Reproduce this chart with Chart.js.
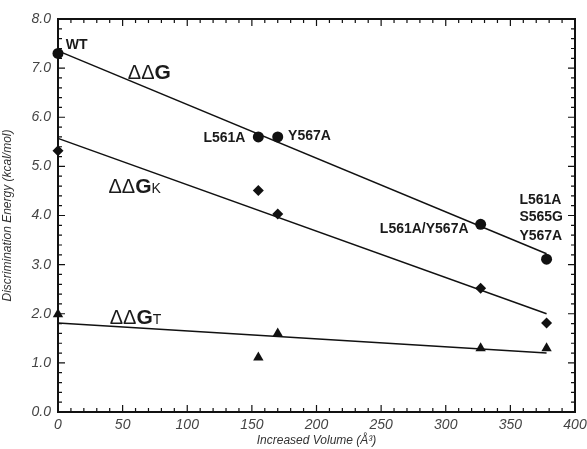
<!DOCTYPE html>
<html>
<head>
<meta charset="utf-8">
<script src="https://cdn.jsdelivr.net/npm/chart.js@4"></script>
<style>
  html, body { margin: 0; padding: 0; background: #fff; }
  #wrap { width: 587px; height: 449px; }
</style>
</head>
<body>
<div id="wrap"><canvas id="energyChart" width="587" height="449"></canvas></div>
<script>
// Increased side chain volume (A^3) for each mutant: WT, L561A, Y567A, L561A/Y567A, L561A/S565G/Y567A
const volumes = [0, 155, 170, 327, 378];
const ddG = [7.3, 5.6, 5.6, 3.82, 3.11];
const ddGK = [5.32, 4.51, 4.03, 2.52, 1.81];
const ddGT = [1.99, 1.11, 1.6, 1.3, 1.3];

// end points of the fitted lines
const fitX = [0, 378];
const fitG = [7.35, 3.22];
const fitK = [5.57, 2.0];
const fitT = [1.81, 1.2];

const xTicks = [0, 50, 100, 150, 200, 250, 300, 350, 400];
const yTicks = [0, 1, 2, 3, 4, 5, 6, 7, 8];

// text labels, anchored in data units
const notes = [
  { text: 'WT', x: 6, y: 7.47, align: 'left' },
  { text: 'L561A', x: 145, y: 5.57, align: 'right' },
  { text: 'Y567A', x: 178, y: 5.61, align: 'left' },
  { text: 'L561A/Y567A', x: 249, y: 3.72, align: 'left' },
  { text: 'L561A', x: 357, y: 4.32, align: 'left' },
  { text: 'S565G', x: 357, y: 3.96, align: 'left' },
  { text: 'Y567A', x: 357, y: 3.58, align: 'left' }
];
const seriesNames = [
  { sub: '', x: 54, y: 6.92 },
  { sub: 'K', x: 39, y: 4.6 },
  { sub: 'T', x: 40, y: 1.93 }
];

function pts(xs, ys) {
  return xs.map((x, i) => ({ x: x, y: ys[i] }));
}

function fitLine(ys) {
  return { type: 'line', data: pts(fitX, ys), borderColor: '#111', borderWidth: 1.5,
    pointRadius: 0, fill: false, showLine: true, clip: false, order: 2 };
}

function markers(ys, style, r) {
  return { type: 'scatter', data: pts(volumes, ys), pointStyle: style, pointRadius: r,
    pointHoverRadius: r, backgroundColor: '#111', borderColor: '#111', borderWidth: 0,
    clip: false, order: 1 };
}

// ticks on all four sides pointing inwards, plus the box and the text labels
const framePlugin = {
  id: 'frame',
  afterDatasetsDraw(chart) {
    const ctx = chart.ctx;
    const a = chart.chartArea;
    const xs = chart.scales.x;
    const ys = chart.scales.y;
    ctx.save();
    ctx.strokeStyle = '#111';
    ctx.lineWidth = 1.2;
    for (let v = 0; v <= 400; v += 10) {
      let px = xs.getPixelForValue(v);
      let len = v % 50 === 0 ? 7 : 4;
      ctx.beginPath();
      ctx.moveTo(px, a.bottom); ctx.lineTo(px, a.bottom - len);
      ctx.moveTo(px, a.top); ctx.lineTo(px, a.top + len);
      ctx.stroke();
    }
    for (let i = 0; i <= 40; i++) {
      let py = ys.getPixelForValue(i * 0.2);
      let len = i % 5 === 0 ? 7 : 4;
      ctx.beginPath();
      ctx.moveTo(a.left, py); ctx.lineTo(a.left + len, py);
      ctx.moveTo(a.right, py); ctx.lineTo(a.right - len, py);
      ctx.stroke();
    }
    ctx.lineWidth = 2;
    ctx.strokeRect(a.left, a.top, a.right - a.left, a.bottom - a.top);

    ctx.fillStyle = '#1a1a1a';
    ctx.textBaseline = 'middle';
    ctx.font = 'bold 14px "Liberation Sans", Arial, sans-serif';
    notes.forEach(n => {
      ctx.textAlign = n.align;
      ctx.fillText(n.text, xs.getPixelForValue(n.x), ys.getPixelForValue(n.y));
    });

    ctx.textAlign = 'left';
    ctx.textBaseline = 'alphabetic';
    seriesNames.forEach(s => {
      let px = xs.getPixelForValue(s.x);
      let py = ys.getPixelForValue(s.y) + 7;
      ctx.font = '20px "Liberation Sans", Arial, sans-serif';
      ctx.fillText('\u0394\u0394', px, py);
      let w = ctx.measureText('\u0394\u0394').width;
      ctx.font = 'bold 21px "Liberation Sans", Arial, sans-serif';
      ctx.fillText('G', px + w, py);
      w += ctx.measureText('G').width;
      if (s.sub) {
        ctx.font = '14px "Liberation Sans", Arial, sans-serif';
        ctx.fillText(s.sub, px + w, py);
      }
    });
    ctx.restore();
  }
};

const tickFont = { family: '"Liberation Sans", Arial, sans-serif', size: 14, style: 'italic' };

new Chart(document.getElementById('energyChart'), {
  type: 'scatter',
  data: {
    datasets: [
      fitLine(fitG),
      fitLine(fitK),
      fitLine(fitT),
      markers(ddG, 'circle', 5.5),
      markers(ddGK, 'rectRot', 5.5),
      markers(ddGT, 'triangle', 6)
    ]
  },
  options: {
    responsive: false,
    animation: false,
    layout: { padding: { left: 0, top: 19, right: 0, bottom: 0 } },
    plugins: { legend: { display: false }, tooltip: { enabled: false } },
    scales: {
      x: {
        type: 'linear', min: 0, max: 400,
        afterBuildTicks: s => { s.ticks = xTicks.map(v => ({ value: v })); },
        afterFit: s => { s.height = 37; s.paddingLeft = 0; s.paddingRight = 12; },
        grid: { display: false, drawTicks: false },
        border: { display: false },
        ticks: { font: tickFont, color: '#444', padding: 5, maxRotation: 0,
          callback: v => String(v) },
        title: { display: true, text: 'Increased Volume (\u00c5\u00b3)', color: '#333',
          font: { family: '"Liberation Sans", Arial, sans-serif', size: 12, style: 'italic' },
          padding: { top: 0, bottom: 1 } }
      },
      y: {
        type: 'linear', min: 0, max: 8,
        afterBuildTicks: s => { s.ticks = yTicks.map(v => ({ value: v })); },
        afterFit: s => { s.width = 58; },
        grid: { display: false, drawTicks: false },
        border: { display: false },
        ticks: { font: tickFont, color: '#444', padding: 7,
          callback: v => v.toFixed(1) },
        title: { display: true, text: 'Discrimination Energy (kcal/mol)', color: '#333',
          font: { family: '"Liberation Sans", Arial, sans-serif', size: 12, style: 'italic' },
          padding: { top: 0, bottom: 0 } }
      }
    }
  },
  plugins: [framePlugin]
});
</script>
</body>
</html>
